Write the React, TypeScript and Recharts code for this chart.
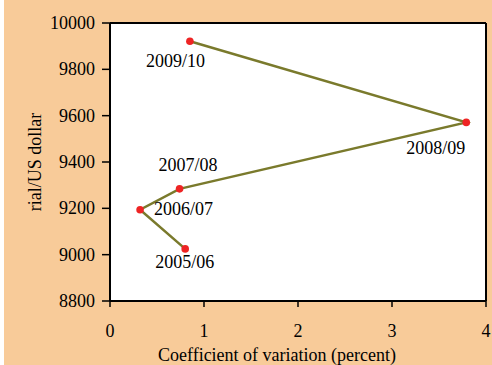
import { ScatterChart, Scatter, XAxis, YAxis, CartesianGrid, ReferenceLine, LabelList } from 'recharts';

const years = ['2005/06', '2006/07', '2007/08', '2008/09', '2009/10'];
const variation = [0.8, 0.32, 0.74, 3.79, 0.85];
const rate = [9025, 9194, 9284, 9571, 9921];
const xTicks = [0, 1, 2, 3, 4];
const yTicks = [8800, 9000, 9200, 9400, 9600, 9800, 10000];

const data = years.map((year, i) => ({ year, cv: variation[i], rate: rate[i] }));

// where each year label sits relative to its point
const labelShift: Record<string, [number, number]> = {
  '2005/06': [4, 18],
  '2006/07': [48, 4],
  '2007/08': [13, -19],
  '2008/09': [-26, 30],
  '2009/10': [-10, 24],
};

const font = 'Liberation Serif, Times New Roman, serif';
const textStyle = { fontFamily: font, fontSize: 18 };

const Dot = (props: any) => <circle cx={props.cx} cy={props.cy} r={3.8} fill="#ee2424" />;

const YearLabel = (props: any) => {
  const [dx, dy] = labelShift[props.value] || [0, 0];
  return (
    <text x={props.x + dx} y={props.y + dy} textAnchor="middle" dominantBaseline="central" style={textStyle} fill="#000">
      {props.value}
    </text>
  );
};

const XTick = (props: any) => (
  <text x={props.x} y={props.y} dy="0.71em" textAnchor="middle" style={textStyle} fill="#000">
    {props.payload.value}
  </text>
);

const YTick = (props: any) => (
  <text x={props.x} y={props.y} textAnchor="end" dominantBaseline="central" style={textStyle} fill="#000">
    {props.payload.value}
  </text>
);

export default function App() {
  return (
    <div style={{ position: 'absolute', left: 0, top: 0, width: 492, height: 365, background: '#fff', fontFamily: font }}>
      <div style={{ position: 'absolute', left: 4, top: 0, width: 488, height: 365, background: '#f8cb99' }}>
        <ScatterChart width={488} height={365} margin={{ top: 23, right: 6, bottom: 24, left: 6 }}>
          <CartesianGrid fill="#fff" horizontal={false} vertical={false} />
          <XAxis
            type="number"
            dataKey="cv"
            domain={[0, 4]}
            ticks={xTicks}
            height={40}
            tickSize={6}
            tickMargin={17}
            axisLine={{ stroke: '#000', strokeWidth: 2 }}
            tickLine={{ stroke: '#000', strokeWidth: 1.5 }}
            tick={<XTick />}
            label={{
              value: 'Coefficient of variation (percent)',
              content: () => (
                <text x={273} y={355} textAnchor="middle" dominantBaseline="central" style={textStyle} fill="#000">
                  Coefficient of variation (percent)
                </text>
              ),
            }}
          />
          <YAxis
            type="number"
            dataKey="rate"
            domain={[8800, 10000]}
            ticks={yTicks}
            width={100}
            tickSize={8}
            tickMargin={7}
            axisLine={{ stroke: '#000', strokeWidth: 2 }}
            tickLine={{ stroke: '#000', strokeWidth: 1.5 }}
            tick={<YTick />}
            label={{
              value: 'rial/US dollar',
              content: () => (
                <text x={31} y={162} transform="rotate(-90, 31, 162)" textAnchor="middle" dominantBaseline="central" style={textStyle} fill="#000">
                  rial/US dollar
                </text>
              ),
            }}
          />
          <ReferenceLine y={10000} stroke="#000" strokeWidth={2} />
          <ReferenceLine x={4} stroke="#000" strokeWidth={2} />
          <Scatter data={data} line={{ stroke: '#7a7a2c', strokeWidth: 2.5 }} shape={<Dot />} isAnimationActive={false}>
            <LabelList dataKey="year" content={<YearLabel />} />
          </Scatter>
        </ScatterChart>
      </div>
    </div>
  );
}
